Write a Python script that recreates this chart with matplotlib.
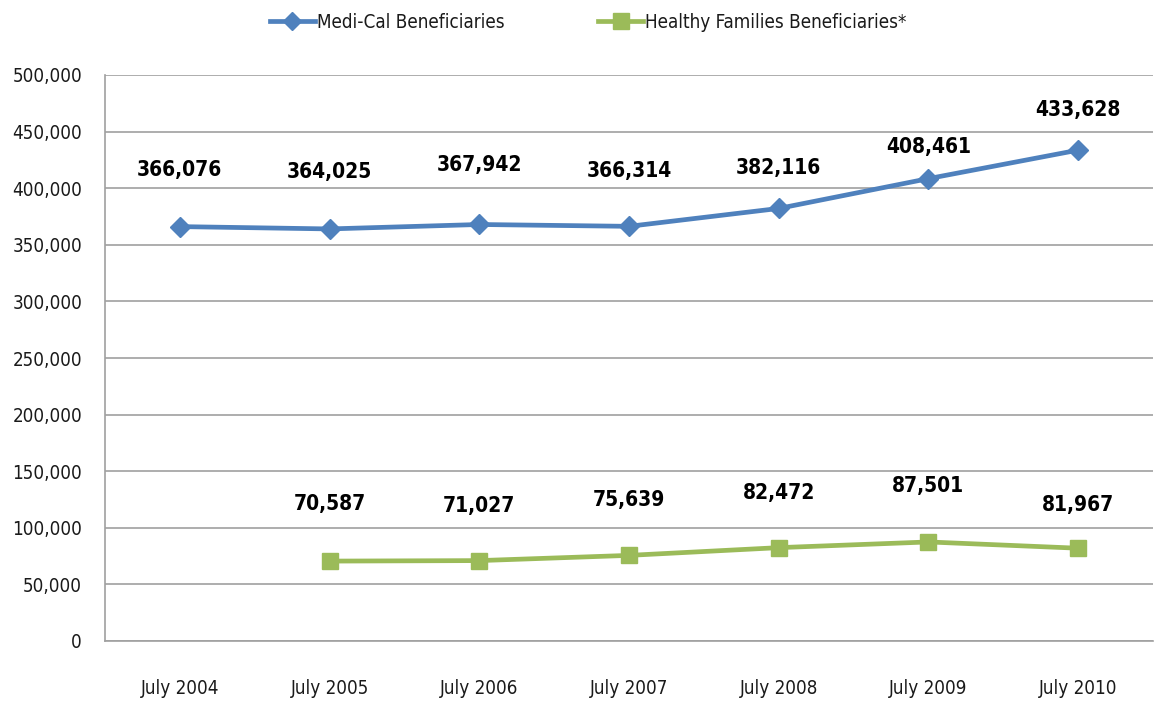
import matplotlib
matplotlib.use("Agg")
import matplotlib.pyplot as plt
from matplotlib.ticker import FuncFormatter, MultipleLocator

categories = ["July 2004", "July 2005", "July 2006", "July 2007", "July 2008", "July 2009", "July 2010"]
medical = [366076, 364025, 367942, 366314, 382116, 408461, 433628]
healthy_cats = ["July 2005", "July 2006", "July 2007", "July 2008", "July 2009", "July 2010"]
healthy = [70587, 71027, 75639, 82472, 87501, 81967]

# label vertical offsets (points) above each point
medical_off = [41, 41, 43, 40, 29, 23, 29]
healthy_off = [41, 39, 40, 39, 40, 31]

FONT = ["DejaVu Sans"]
plt.rcParams["font.family"] = FONT
plt.rcParams["font.stretch"] = "condensed"

BLUE = "#4F81BD"
GREEN = "#9BBB59"
TXT = "#1a1a1a"

fig = plt.figure(figsize=(11.58, 7.05), dpi=100)
ax = fig.add_axes([105/1158, 64/705, 1048/1158, 566/705])

xpos = {c: i for i, c in enumerate(categories)}
xm = [xpos[c] for c in categories]
xh = [xpos[c] for c in healthy_cats]

ax.plot(xm, medical, color=BLUE, lw=3.4, marker="D", ms=10, mec=BLUE, mfc=BLUE,
        label="Medi-Cal Beneficiaries", zorder=3)
ax.plot(xh, healthy, color=GREEN, lw=3.4, marker="s", ms=11.5, mec=GREEN, mfc=GREEN,
        label="Healthy Families Beneficiaries*", zorder=3)

for x, v, o in zip(xm, medical, medical_off):
    ax.annotate(f"{v:,}", (x, v), xytext=(0, o), textcoords="offset points",
                ha="center", va="center", fontsize=15, fontweight="bold", color="black",
                fontstretch="condensed")
for x, v, o in zip(xh, healthy, healthy_off):
    ax.annotate(f"{v:,}", (x, v), xytext=(0, o), textcoords="offset points",
                ha="center", va="center", fontsize=15, fontweight="bold", color="black",
                fontstretch="condensed")

ax.set_xlim(-0.5, len(categories) - 0.5)
ax.set_ylim(0, 500000)
ax.yaxis.set_major_locator(MultipleLocator(50000))
ax.yaxis.set_major_formatter(FuncFormatter(lambda v, p: f"{int(v):,}"))
ax.set_xticks(range(len(categories)))
ax.set_xticklabels(categories)
ax.tick_params(axis="y", length=0, pad=16.5, labelsize=13.5, labelcolor=TXT)
ax.tick_params(axis="x", length=0, pad=27, labelsize=13.5, labelcolor=TXT)

ax.grid(axis="y", color="#A0A0A0", lw=1.2)
ax.set_axisbelow(True)
for s in ["top", "right"]:
    ax.spines[s].set_visible(False)
for s in ["left", "bottom"]:
    ax.spines[s].set_color("#A0A0A0")
    ax.spines[s].set_linewidth(1.2)

leg = fig.legend(loc="center", bbox_to_anchor=(588/1158, 1 - 22/705), ncol=2, frameon=False,
                 fontsize=13.5, handlelength=2.4, columnspacing=5.0, handletextpad=0.1,
                 markerscale=0.95)
for t in leg.get_texts():
    t.set_color(TXT)

fig.savefig("out.png", dpi=100)
